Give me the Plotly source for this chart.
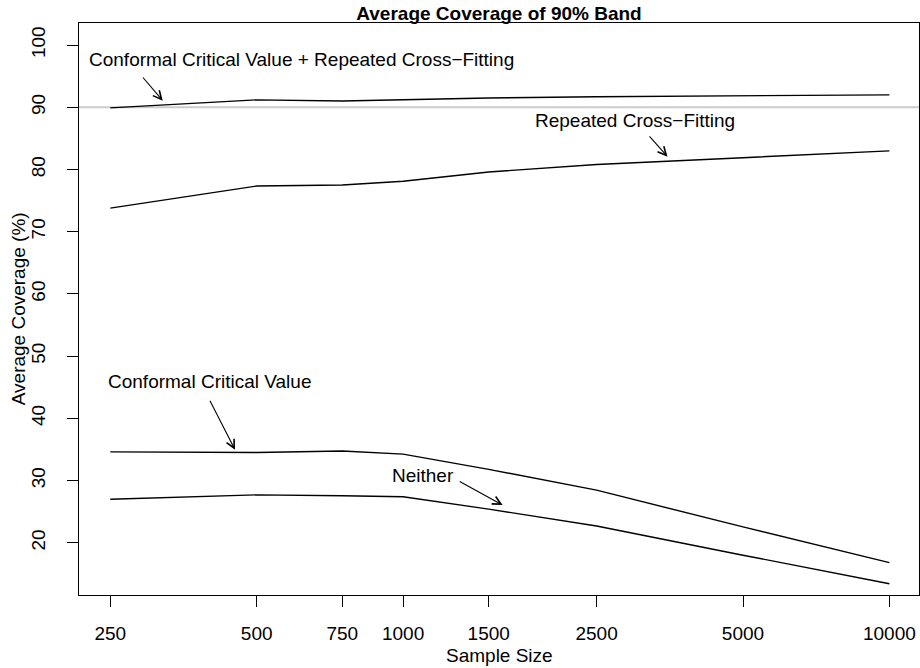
import math
import plotly.graph_objects as go

# Simulation results: average coverage (%) of the nominal 90% band
sample_sizes = [250, 500, 750, 1000, 1500, 2500, 5000, 10000]
cov_conformal_rcf = [89.9, 91.2, 91.0, 91.2, 91.5, 91.7, 91.85, 92.0]
cov_rcf = [73.8, 77.35, 77.5, 78.1, 79.6, 80.8, 81.9, 83.0]
cov_conformal = [34.6, 34.5, 34.75, 34.25, 31.8, 28.45, 22.55, 16.8]
cov_neither = [27.0, 27.7, 27.55, 27.4, 25.4, 22.7, 18.0, 13.4]

nominal = 90
y_ticks = [20, 30, 40, 50, 60, 70, 80, 90, 100]
x_tick_labels = [str(n) for n in sample_sizes]

# Label text, label anchor (sample size, coverage), arrow tip (sample size, coverage),
# arrow tail offset in pixels from the tip
labels = [
    ("Conformal Critical Value + Repeated Cross\u2212Fitting", (616.7, 97.7), (320.4, 91.06), (-21, -24.7)),
    ("Repeated Cross\u2212Fitting", (2999, 87.88), (3497, 82.06), (-19.3, -21.7)),
    ("Conformal Critical Value", (399.4, 45.88), (451.2, 34.95), (-25.8, -50.4)),
    ("Neither", (1100.4, 30.77), (1602, 26.06), (-44.4, -24.3)),
]

FONT = "Liberation Sans, Arial, Helvetica, sans-serif"
FS = 19

fig = go.Figure()

for series in [cov_conformal_rcf, cov_rcf, cov_conformal, cov_neither]:
    fig.add_trace(go.Scatter(
        x=sample_sizes, y=series, mode="lines",
        line=dict(color="black", width=1.4),
        showlegend=False, hoverinfo="skip",
    ))

# nominal coverage reference line
fig.add_shape(type="line", xref="x domain", yref="y",
              x0=0, x1=1, y0=nominal, y1=nominal,
              line=dict(color="#cccccc", width=2), layer="below")

for text, (lx, ly), (tx, ty), (dx, dy) in labels:
    fig.add_annotation(x=math.log10(lx), y=ly, text=text, showarrow=False,
                       xanchor="center", yanchor="middle",
                       font=dict(family=FONT, size=FS, color="black"))
    fig.add_annotation(x=math.log10(tx), y=ty, text="", showarrow=True,
                       ax=dx, ay=dy, axref="pixel", ayref="pixel",
                       arrowhead=5, arrowsize=1.5, arrowwidth=1.1,
                       arrowcolor="black", standoff=0, startstandoff=0)

# axis titles
fig.add_annotation(xref="paper", yref="paper", x=0.5, y=-0.1049,
                   text="Sample Size", showarrow=False,
                   xanchor="center", yanchor="middle",
                   font=dict(family=FONT, size=FS, color="black"))
fig.add_annotation(xref="paper", yref="paper", x=-0.0723, y=0.5,
                   text="Average Coverage (%)", showarrow=False, textangle=-90,
                   xanchor="center", yanchor="middle",
                   font=dict(family=FONT, size=FS, color="black"))

fig.update_layout(
    width=920, height=668,
    margin=dict(l=79, r=1, t=23, b=73),
    paper_bgcolor="white", plot_bgcolor="white",
    font=dict(family=FONT, size=FS, color="black"),
    title=dict(text="<b>Average Coverage of 90% Band</b>",
               x=499 / 920, xanchor="center",
               xref="container", yref="container",
               y=1 - 13.3 / 668, yanchor="middle",
               font=dict(family=FONT, size=FS, color="black")),
    showlegend=False,
)

fig.update_xaxes(
    type="log", range=[2.33358, 4.06087],
    tickvals=sample_sizes, ticktext=x_tick_labels,
    ticks="outside", ticklen=11, tickwidth=1, tickcolor="black",
    ticklabelstandoff=10,
    showgrid=False, zeroline=False,
    showline=True, linecolor="black", linewidth=1, mirror=True,
)
fig.update_yaxes(
    range=[11.6, 103.55],
    tickvals=y_ticks, tickangle=-90,
    ticks="outside", ticklen=11, tickwidth=1, tickcolor="black",
    ticklabelstandoff=14,
    showgrid=False, zeroline=False,
    showline=True, linecolor="black", linewidth=1, mirror=True,
)

fig.write_html("out.html")
